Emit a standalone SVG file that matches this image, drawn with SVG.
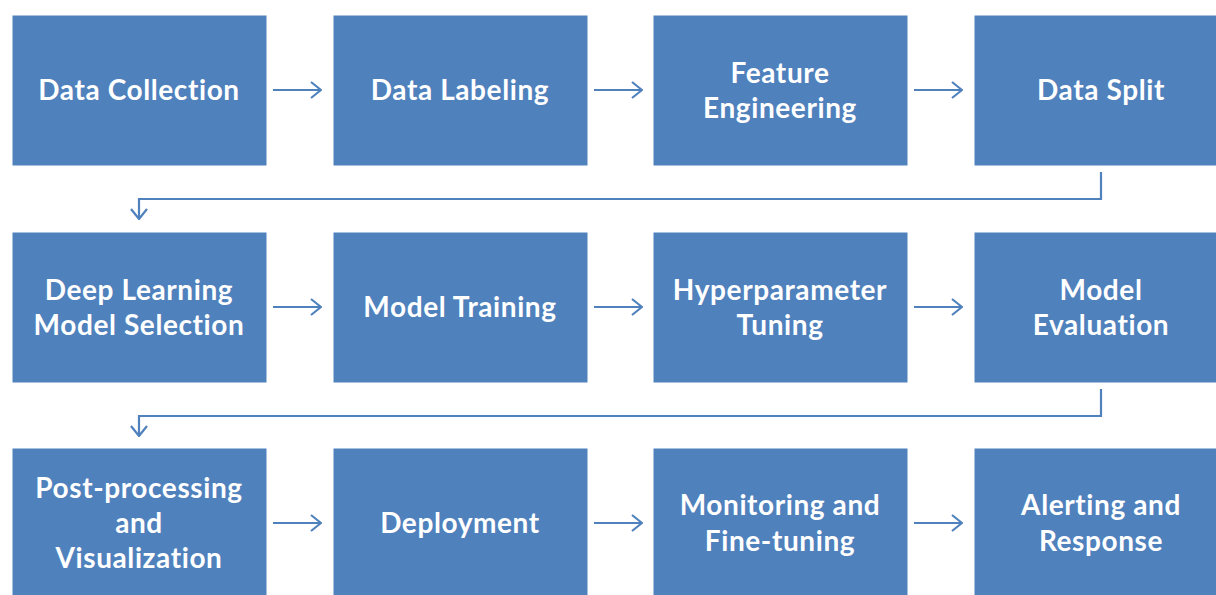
<svg xmlns="http://www.w3.org/2000/svg" width="1216" height="595" viewBox="0 0 1216 595">
<defs>
<style>
.box{fill:#4F81BD;stroke:#FFFFFF;stroke-width:1}
.lbl{font-family:Lato,"Liberation Sans",sans-serif;font-weight:bold;font-size:28px;letter-spacing:0.6px;fill:#FFFFFF;text-anchor:middle}
.conn{fill:none;stroke:#4F81BD;stroke-width:2.2}
</style>
<marker id="chev" viewBox="0 0 12 18" refX="11" refY="9" markerWidth="12" markerHeight="18" markerUnits="userSpaceOnUse" orient="auto">
<path d="M1,1 L11,9 L1,17" fill="none" stroke="#4F81BD" stroke-width="2.2"/>
</marker>
</defs>
<rect width="1216" height="595" fill="#FFFFFF"/>
<g id="connectors">
<line class="conn" x1="273" y1="90" x2="321" y2="90" marker-end="url(#chev)"/>
<line class="conn" x1="594" y1="90" x2="642" y2="90" marker-end="url(#chev)"/>
<line class="conn" x1="914" y1="90" x2="962" y2="90" marker-end="url(#chev)"/>
<polyline class="conn" points="1101,172 1101,199 139,199 139,219" marker-end="url(#chev)"/>
<line class="conn" x1="273" y1="307" x2="321" y2="307" marker-end="url(#chev)"/>
<line class="conn" x1="594" y1="307" x2="642" y2="307" marker-end="url(#chev)"/>
<line class="conn" x1="914" y1="307" x2="962" y2="307" marker-end="url(#chev)"/>
<polyline class="conn" points="1101,389 1101,416 139,416 139,436" marker-end="url(#chev)"/>
<line class="conn" x1="273" y1="523" x2="321" y2="523" marker-end="url(#chev)"/>
<line class="conn" x1="594" y1="523" x2="642" y2="523" marker-end="url(#chev)"/>
<line class="conn" x1="914" y1="523" x2="962" y2="523" marker-end="url(#chev)"/>
</g>
<g id="n1"><rect class="box" x="12" y="15" width="255" height="151"/><text class="lbl" x="139" y="100">Data Collection</text></g>
<g id="n2"><rect class="box" x="333" y="15" width="255" height="151"/><text class="lbl" x="460" y="100">Data Labeling</text></g>
<g id="n3"><rect class="box" x="653" y="15" width="255" height="151"/><text class="lbl" x="780" y="83">Feature</text><text class="lbl" x="780" y="118">Engineering</text></g>
<g id="n4"><rect class="box" x="974" y="15" width="255" height="151"/><text class="lbl" x="1101" y="100">Data Split</text></g>
<g id="n5"><rect class="box" x="12" y="232" width="255" height="151"/><text class="lbl" x="139" y="300">Deep Learning</text><text class="lbl" x="139" y="335">Model Selection</text></g>
<g id="n6"><rect class="box" x="333" y="232" width="255" height="151"/><text class="lbl" x="460" y="317">Model Training</text></g>
<g id="n7"><rect class="box" x="653" y="232" width="255" height="151"/><text class="lbl" x="780" y="300">Hyperparameter</text><text class="lbl" x="780" y="335">Tuning</text></g>
<g id="n8"><rect class="box" x="974" y="232" width="255" height="151"/><text class="lbl" x="1101" y="300">Model</text><text class="lbl" x="1101" y="335">Evaluation</text></g>
<g id="n9"><rect class="box" x="12" y="448" width="255" height="151"/><text class="lbl" x="139" y="498">Post-processing</text><text class="lbl" x="139" y="533">and</text><text class="lbl" x="139" y="568">Visualization</text></g>
<g id="n10"><rect class="box" x="333" y="448" width="255" height="151"/><text class="lbl" x="460" y="533">Deployment</text></g>
<g id="n11"><rect class="box" x="653" y="448" width="255" height="151"/><text class="lbl" x="780" y="515">Monitoring and</text><text class="lbl" x="780" y="551">Fine-tuning</text></g>
<g id="n12"><rect class="box" x="974" y="448" width="255" height="151"/><text class="lbl" x="1101" y="515">Alerting and</text><text class="lbl" x="1101" y="551">Response</text></g>
</svg>
